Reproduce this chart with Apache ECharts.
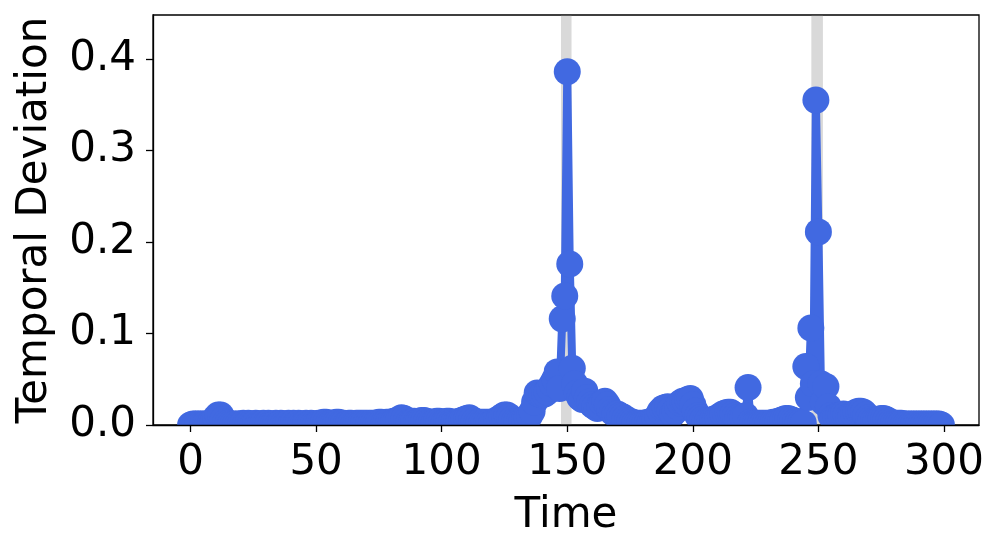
<!DOCTYPE html>
<html>
<head>
<meta charset="utf-8">
<script src="https://cdn.jsdelivr.net/npm/echarts@6/dist/echarts.min.js"></script>
<style>
  html, body { margin: 0; padding: 0; background: #fff; }
  #chart { width: 996px; height: 537px; }
</style>
</head>
<body>
<div id="chart"></div>
<script>
// deviation per time step, t = 0..299 (10 per row)
const deviation = [
  0.000, 0.001, 0.001, 0.001, 0.001, 0.001, 0.001, 0.001, 0.002, 0.004,
  0.008, 0.011, 0.011, 0.006, 0.003, 0.002, 0.001, 0.001, 0.001, 0.001,
  0.001, 0.002, 0.001, 0.002, 0.001, 0.001, 0.002, 0.001, 0.001, 0.002,
  0.001, 0.002, 0.001, 0.001, 0.002, 0.001, 0.002, 0.001, 0.001, 0.002,
  0.001, 0.002, 0.001, 0.002, 0.001, 0.001, 0.002, 0.001, 0.002, 0.001,
  0.001, 0.002, 0.002, 0.003, 0.003, 0.002, 0.002, 0.002, 0.003, 0.003,
  0.002, 0.002, 0.001, 0.002, 0.002, 0.001, 0.002, 0.002, 0.002, 0.002,
  0.002, 0.002, 0.002, 0.002, 0.002, 0.003, 0.003, 0.002, 0.003, 0.003,
  0.003, 0.004, 0.005, 0.006, 0.008, 0.007, 0.005, 0.003, 0.003, 0.004,
  0.003, 0.004, 0.005, 0.005, 0.004, 0.003, 0.003, 0.003, 0.004, 0.004,
  0.003, 0.003, 0.004, 0.004, 0.003, 0.003, 0.003, 0.004, 0.005, 0.006,
  0.007, 0.008, 0.006, 0.004, 0.003, 0.003, 0.003, 0.003, 0.003, 0.003,
  0.003, 0.004, 0.005, 0.007, 0.009, 0.011, 0.011, 0.009, 0.006, 0.004,
  0.004, 0.004, 0.005, 0.006, 0.008, 0.010, 0.015, 0.025, 0.035, 0.034,
  0.033, 0.034, 0.036, 0.040, 0.045, 0.050, 0.058, 0.040, 0.116, 0.141,
  0.386, 0.176, 0.062, 0.045, 0.035, 0.030, 0.028, 0.037, 0.030, 0.025,
  0.022, 0.020, 0.018, 0.020, 0.024, 0.026, 0.022, 0.017, 0.014, 0.012,
  0.012, 0.010, 0.009, 0.007, 0.005, 0.004, 0.003, 0.002, 0.002, 0.002,
  0.002, 0.002, 0.003, 0.003, 0.004, 0.006, 0.010, 0.015, 0.018, 0.019,
  0.020, 0.016, 0.012, 0.015, 0.020, 0.024, 0.026, 0.025, 0.028, 0.029,
  0.022, 0.015, 0.010, 0.008, 0.006, 0.005, 0.005, 0.005, 0.006, 0.007,
  0.008, 0.010, 0.012, 0.013, 0.014, 0.014, 0.012, 0.010, 0.008, 0.007,
  0.008, 0.010, 0.041, 0.003, 0.002, 0.002, 0.002, 0.002, 0.002, 0.002,
  0.002, 0.002, 0.003, 0.003, 0.004, 0.005, 0.006, 0.007, 0.007, 0.006,
  0.005, 0.004, 0.003, 0.003, 0.002, 0.064, 0.030, 0.106, 0.045, 0.355,
  0.211, 0.045, 0.025, 0.042, 0.020, 0.010, 0.008, 0.009, 0.010, 0.011,
  0.012, 0.011, 0.009, 0.010, 0.012, 0.014, 0.015, 0.015, 0.014, 0.011,
  0.008, 0.006, 0.005, 0.005, 0.006, 0.007, 0.007, 0.006, 0.004, 0.003,
  0.002, 0.002, 0.002, 0.002, 0.001, 0.001, 0.001, 0.001, 0.001, 0.001,
  0.001, 0.001, 0.001, 0.001, 0.001, 0.001, 0.001, 0.001, 0.001, 0.000,
]

// shaded anomaly windows [start, end]
const anomalyBands = [[147.5, 151.7], [247.2, 251.8]]

const xTicks = [0, 50, 100, 150, 200, 250, 300]
const yTicks = [0, 0.1, 0.2, 0.3, 0.4]

const FONT = "'DejaVu Sans', sans-serif"
const BLUE = '#4169e1'

const GRID = { left: 153, right: 17, top: 15, bottom: 112 }
const W = 996, H = 537

const chart = echarts.init(document.getElementById('chart'), null, { renderer: 'canvas' })

const axisBase = {
  z: 10,
  axisLine: { show: true, onZero: false, lineStyle: { color: '#000', width: 1.3 } },
  axisTick: { show: true, inside: false, length: 7, lineStyle: { color: '#000', width: 1.3 } },
  splitLine: { show: false },
  nameTextStyle: { color: '#000', fontSize: 42, fontFamily: FONT },
}

chart.setOption({
  animation: false,
  backgroundColor: '#fff',
  grid: {
    ...GRID,
    outerBoundsMode: 'none',
    show: true, borderColor: '#000', borderWidth: 1.3, backgroundColor: 'transparent',
  },
  // markers are clipped at the bottom spine, like matplotlib does
  graphic: [{
    type: 'rect', z: 5, silent: true,
    shape: { x: GRID.left, y: H - GRID.bottom + 1, width: W - GRID.left - GRID.right, height: 18 },
    style: { fill: '#fff' },
  }],
  xAxis: {
    ...axisBase,
    type: 'value',
    min: -14.95,
    max: 313.95,
    name: 'Time',
    nameLocation: 'middle',
    nameGap: 70,
    axisTick: { ...axisBase.axisTick, customValues: xTicks },
    axisLabel: {
      customValues: xTicks,
      color: '#000', fontSize: 42, fontFamily: FONT, margin: 17,
    },
  },
  yAxis: {
    ...axisBase,
    type: 'value',
    min: 0,
    max: 0.448,
    name: 'Temporal Deviation',
    nameLocation: 'middle',
    nameGap: 97,
    axisTick: { ...axisBase.axisTick, customValues: yTicks },
    axisLabel: {
      customValues: yTicks,
      color: '#000', fontSize: 42, fontFamily: FONT, margin: 17,
      formatter: (v) => v.toFixed(1),
    },
  },
  series: [
    {
      type: 'line',
      z: 2,
      data: deviation.map((v, t) => [t, v]),
      symbol: 'circle',
      symbolSize: 27,
      showAllSymbol: true,
      color: BLUE,
      itemStyle: { color: BLUE },
      lineStyle: { color: BLUE, width: 8 },
      emphasis: { disabled: true },
      markArea: {
        silent: true,
        itemStyle: { color: 'rgba(128,128,128,0.3)' },
        data: anomalyBands.map(([a, b]) => [{ xAxis: a }, { xAxis: b }]),
      },
    },
  ],
})
</script>
</body>
</html>
